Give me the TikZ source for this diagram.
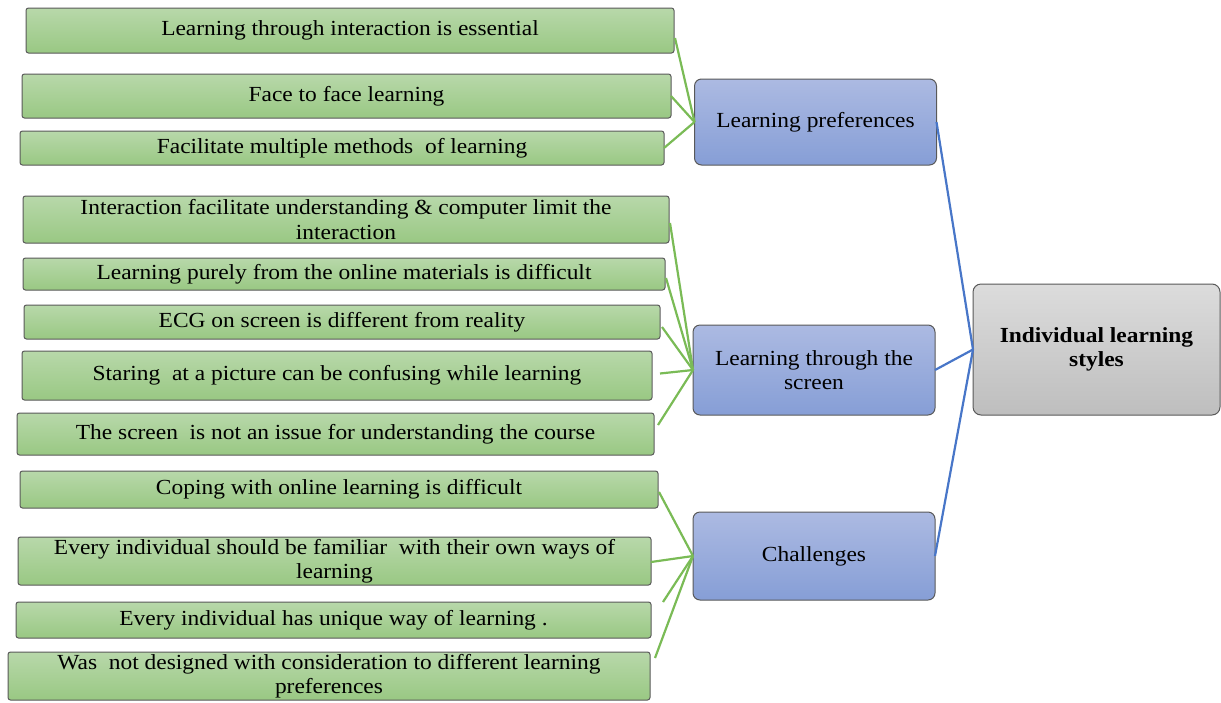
\documentclass[tikz,border=0pt]{standalone}
\usepackage{fontspec}
\setmainfont[FakeStretch=1.09]{Liberation Serif}
\usetikzlibrary{calc}
\definecolor{gtop}{RGB}{184,216,170}
\definecolor{gbot}{RGB}{153,200,131}
\definecolor{btop}{RGB}{172,186,226}
\definecolor{bbot}{RGB}{134,158,214}
\definecolor{ytop}{RGB}{220,220,220}
\definecolor{ybot}{RGB}{190,190,190}
\definecolor{glink}{RGB}{122,187,86}
\definecolor{blink}{RGB}{72,118,200}
\newcommand\mydiagfont{\fontsize{21.5}{24.5}\selectfont}
\begin{document}
\begin{tikzpicture}[x=1pt,y=-1pt,
  gbox/.style={draw=black!65, line width=1pt, rounded corners=2.5pt, top color=gtop, bottom color=gbot, inner sep=0pt, outer sep=0pt, align=center, font=\mydiagfont},
  bbox/.style={draw=black!65, line width=1pt, rounded corners=7pt, top color=btop, bottom color=bbot, inner sep=0pt, outer sep=0pt, align=center, font=\mydiagfont, minimum width=242pt},
  ybox/.style={draw=black!65, line width=1pt, rounded corners=8pt, top color=ytop, bottom color=ybot, inner sep=0pt, outer sep=0pt, align=center, font=\mydiagfont\bfseries},
  gline/.style={draw=glink, line width=2.2pt},
  bline/.style={draw=blink, line width=2.2pt}]
\useasboundingbox (0,0) rectangle (1221,702);
% green boxes
\node[gbox, minimum width=648pt, minimum height=45pt] (g1) at (350,30.5) {Learning through interaction is essential};
\node[gbox, minimum width=649pt, minimum height=44pt] (g2) at (346.5,96) {Face to face learning};
\node[gbox, minimum width=644pt, minimum height=34pt] (g3) at (342,148) {Facilitate multiple methods\ \ of learning};
\node[gbox, minimum width=646pt, minimum height=47pt] (g4) at (346,219.5) {Interaction facilitate understanding \& computer limit the\\interaction};
\node[gbox, minimum width=642pt, minimum height=32pt] (g5) at (344,274) {Learning purely from the online materials is difficult};
\node[gbox, minimum width=636pt, minimum height=34pt] (g6) at (342,322) {ECG on screen is different from reality};
\node[gbox, minimum width=630pt, minimum height=49pt] (g7) at (337,375.5) {Staring\ \ at a picture can be confusing while learning};
\node[gbox, minimum width=637pt, minimum height=42pt] (g8) at (335.5,434) {The screen\ \ is not an issue for understanding the course};
\node[gbox, minimum width=638pt, minimum height=37pt] (g9) at (339,489.5) {Coping with online learning is difficult};
\node[gbox, minimum width=633pt, minimum height=48pt] (g10) at (334.5,561) {Every individual should be familiar\ \ with their own ways of\\learning};
\node[gbox, minimum width=635pt, minimum height=36pt] (g11) at (333.5,620) {Every individual has unique way of learning .};
\node[gbox, minimum width=642pt, minimum height=48pt] (g12) at (329,676) {Was\ \ not designed with consideration to different learning\\preferences};
% blue boxes
\node[bbox, minimum height=86pt] (b1) at (815.5,122) {Learning preferences};
\node[bbox, minimum height=90pt] (b2) at (814,370) {Learning through the\\screen};
\node[bbox, minimum height=88pt] (b3) at (814,556) {Challenges};
% grey box
\node[ybox, minimum width=247pt, minimum height=131pt] (root) at (1096.5,349.5) {Individual learning\\styles};
% green connectors
\draw[gline] ($(g1.east)+(1,7.5)$) -- (b1.west);
\draw[gline] (g2.east) -- (b1.west);
\draw[gline] (g3.east) -- (b1.west);
\draw[gline] ($(g4.east)+(1,3.5)$) -- (b2.west);
\draw[gline] ($(g5.east)+(1,4)$) -- (b2.west);
\draw[gline] ($(g6.east)+(2,5)$) -- (b2.west);
\draw[gline] ($(g7.east)+(8,-2)$) -- (b2.west);
\draw[gline] ($(g8.east)+(4,-9)$) -- (b2.west);
\draw[gline] ($(g9.east)+(1,2.5)$) -- (b3.west);
\draw[gline] ($(g10.east)+(0,1)$) -- (b3.west);
\draw[gline] ($(g11.north east)+(12,0)$) -- (b3.west);
\draw[gline] ($(g12.north east)+(5,6)$) -- (b3.west);
% blue connectors
\draw[bline] (b1.east) -- (root.west);
\draw[bline] (b2.east) -- (root.west);
\draw[bline] (b3.east) -- (root.west);
\end{tikzpicture}
\end{document}
